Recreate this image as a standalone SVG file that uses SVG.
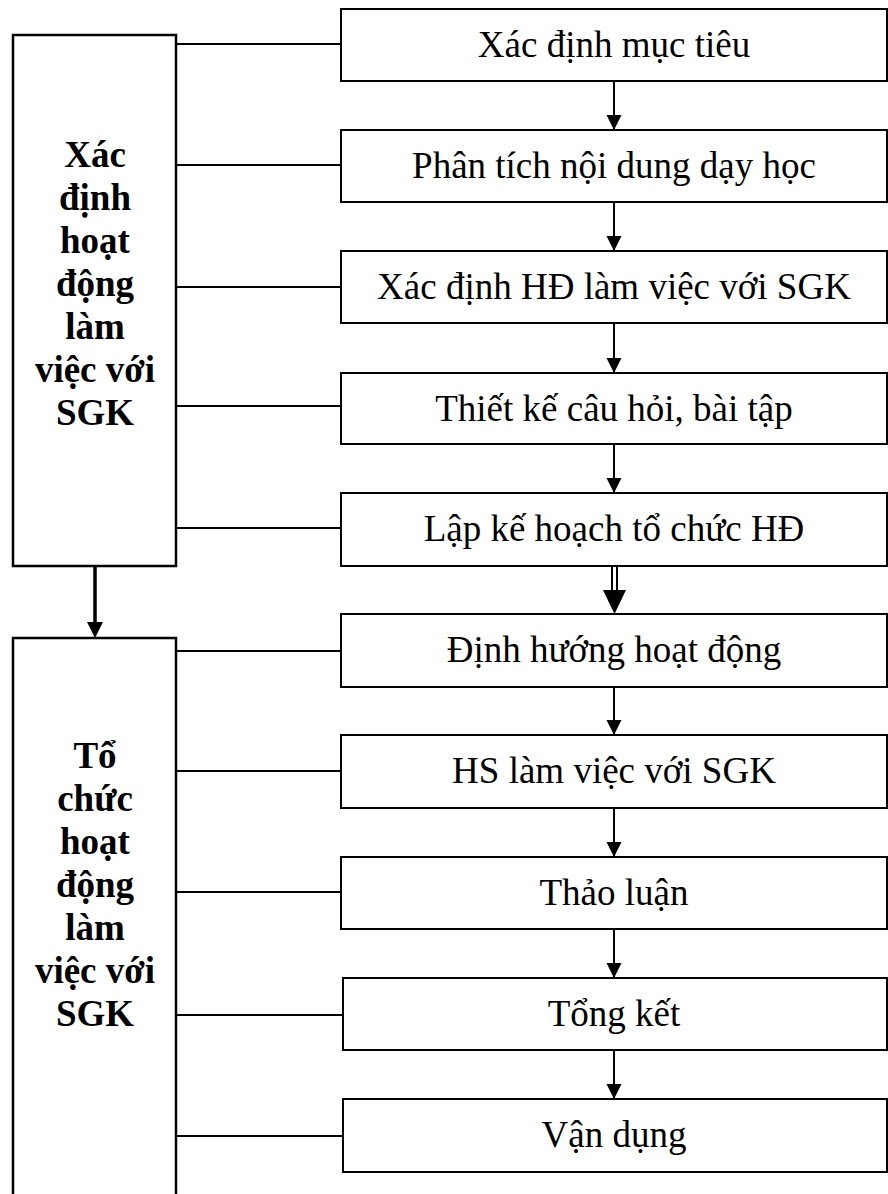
<svg xmlns="http://www.w3.org/2000/svg" width="888" height="1194" viewBox="0 0 888 1194">
<style>
.box{fill:#fff;stroke:#000;stroke-width:2}
.lbox{fill:#fff;stroke:#000;stroke-width:2.5}
.t{font-family:"Liberation Serif","Times New Roman",serif;font-size:37px;text-anchor:middle;fill:#000}
.b{font-family:"Liberation Serif","Times New Roman",serif;font-size:37px;font-weight:bold;text-anchor:middle;fill:#000}
.ln{stroke:#000;stroke-width:2;fill:none}
</style>
<defs>
<marker id="ah" markerUnits="userSpaceOnUse" markerWidth="16" markerHeight="16" refX="15" refY="7.5" orient="auto">
<path d="M0,0 L15,7.5 L0,15 Z" fill="#000"/>
</marker>
</defs>
<g id="connectors">
<line class="ln" x1="176" y1="44" x2="341" y2="44"/>
<line class="ln" x1="176" y1="165" x2="341" y2="165"/>
<line class="ln" x1="176" y1="287" x2="341" y2="287"/>
<line class="ln" x1="176" y1="406" x2="341" y2="406"/>
<line class="ln" x1="176" y1="528" x2="341" y2="528"/>
<line class="ln" x1="176" y1="651" x2="341" y2="651"/>
<line class="ln" x1="176" y1="771" x2="341" y2="771"/>
<line class="ln" x1="176" y1="892" x2="341" y2="892"/>
<line class="ln" x1="176" y1="1015" x2="343" y2="1015"/>
<line class="ln" x1="176" y1="1136" x2="343" y2="1136"/>
<line class="ln" x1="614" y1="81" x2="614" y2="130" marker-end="url(#ah)"/>
<line class="ln" x1="614" y1="202" x2="614" y2="251" marker-end="url(#ah)"/>
<line class="ln" x1="614" y1="323" x2="614" y2="373" marker-end="url(#ah)"/>
<line class="ln" x1="614" y1="444" x2="614" y2="493" marker-end="url(#ah)"/>
<line class="ln" x1="612" y1="566" x2="612" y2="592"/>
<line class="ln" x1="617" y1="566" x2="617" y2="592"/>
<path d="M603,590 L626,590 L614.5,614 Z" fill="#000"/>
<line class="ln" x1="614" y1="687" x2="614" y2="735" marker-end="url(#ah)"/>
<line class="ln" x1="614" y1="808" x2="614" y2="857" marker-end="url(#ah)"/>
<line class="ln" x1="614" y1="929" x2="614" y2="978" marker-end="url(#ah)"/>
<line class="ln" x1="614" y1="1050" x2="614" y2="1099" marker-end="url(#ah)"/>
<line x1="95" y1="566" x2="95" y2="624" stroke="#000" stroke-width="3.5"/>
<path d="M87,622 L103,622 L95,638 Z" fill="#000"/>
</g>
<g id="left1">
<rect class="lbox" x="13" y="35" width="163" height="531"/>
<text class="b" x="95" y="167">Xác</text>
<text class="b" x="95" y="210">định</text>
<text class="b" x="95" y="253">hoạt</text>
<text class="b" x="95" y="296">động</text>
<text class="b" x="95" y="339">làm</text>
<text class="b" x="95" y="382">việc với</text>
<text class="b" x="95" y="425">SGK</text>
</g>
<g id="left2">
<rect class="lbox" x="13" y="638" width="163" height="580"/>
<text class="b" x="95" y="768">Tổ</text>
<text class="b" x="95" y="811">chức</text>
<text class="b" x="95" y="854">hoạt</text>
<text class="b" x="95" y="897">động</text>
<text class="b" x="95" y="940">làm</text>
<text class="b" x="95" y="983">việc với</text>
<text class="b" x="95" y="1026">SGK</text>
</g>
<g id="n1"><rect class="box" x="341" y="9" width="546" height="72"/><text class="t" x="614" y="57">Xác định mục tiêu</text></g>
<g id="n2"><rect class="box" x="341" y="130" width="546" height="72"/><text class="t" x="614" y="178">Phân tích nội dung dạy học</text></g>
<g id="n3"><rect class="box" x="341" y="251" width="546" height="72"/><text class="t" x="614" y="299">Xác định HĐ làm việc với SGK</text></g>
<g id="n4"><rect class="box" x="341" y="373" width="546" height="71"/><text class="t" x="614" y="421">Thiết kế câu hỏi, bài tập</text></g>
<g id="n5"><rect class="box" x="341" y="493" width="546" height="73"/><text class="t" x="614" y="541">Lập kế hoạch tổ chức HĐ</text></g>
<g id="n6"><rect class="box" x="341" y="614" width="546" height="73"/><text class="t" x="614" y="662">Định hướng hoạt động</text></g>
<g id="n7"><rect class="box" x="341" y="735" width="546" height="73"/><text class="t" x="614" y="783">HS làm việc với SGK</text></g>
<g id="n8"><rect class="box" x="341" y="857" width="546" height="72"/><text class="t" x="614" y="905">Thảo luận</text></g>
<g id="n9"><rect class="box" x="343" y="978" width="544" height="72"/><text class="t" x="614" y="1026">Tổng kết</text></g>
<g id="n10"><rect class="box" x="343" y="1099" width="544" height="73"/><text class="t" x="614" y="1147">Vận dụng</text></g>
</svg>
